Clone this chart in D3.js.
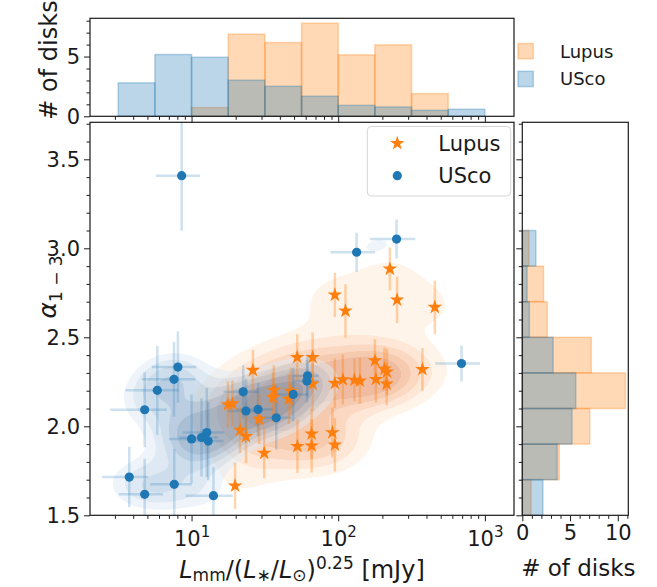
<!DOCTYPE html>
<html>
<head>
<meta charset="utf-8">
<script src="https://cdn.jsdelivr.net/npm/d3@7"></script>
<style>
  body { margin: 0; background: #fff; }
  svg { font-family: "DejaVu Sans", sans-serif; }
</style>
</head>
<body>
<svg id="chart" width="657" height="587"></svg>
<script>
// ---- data ----
const groups = ["Lupus", "USco"];

// Lupus: flux (mJy), alpha, alpha error
const lupusX = [225, 94.9, 112, 252, 456, 66.9, 52.5, 66.9, 94.9, 107.6, 129, 140.6, 178, 180.7, 206.5, 214.8, 213.8, 375,
                65.9, 91.2, 65.9, 94.9, 26.2, 17.7, 19.0, 36.4, 35.9, 47.6, 46.1, 28.9, 21.4, 23.5, 31.3, 52.7, 19.8];
const lupusY = [2.884, 2.738, 2.648, 2.710, 2.669, 2.388, 2.388, 2.238, 2.242, 2.263, 2.260, 2.255, 2.369, 2.264, 2.322, 2.306, 2.238, 2.320,
                1.958, 1.965, 1.890, 1.896, 2.315, 2.122, 2.127, 2.203, 2.162, 2.198, 2.153, 2.040, 1.979, 1.943, 1.849, 1.887, 1.666];
const lupusYerr = [0.12, 0.125, 0.15, 0.13, 0.15, 0.14, 0.13, 0.15, 0.14, 0.14, 0.12, 0.13, 0.12, 0.13, 0.12, 0.13, 0.12, 0.12,
                   0.14, 0.14, 0.15, 0.15, 0.115, 0.13, 0.13, 0.14, 0.14, 0.13, 0.14, 0.14, 0.13, 0.15, 0.14, 0.15, 0.13];

// USco: flux, flux error, alpha, alpha error
const uscoX = [8.56, 133.5, 250, 693, 8.07, 7.59, 5.84, 4.79, 10.0, 11.7, 12.7, 13.0, 3.76, 7.62, 4.79, 14.1,
               22.5, 23.5, 28.4, 37.8, 49.3, 61.8, 61.2];
const uscoXerr = [2.85, 45, 85, 235, 2.7, 3.0, 2.3, 2.0, 3.0, 3.5, 4.0, 3.5, 1.3, 2.4, 1.6, 5.0,
                  6, 6, 8, 10, 13, 12, 12];
const uscoY = [3.408, 2.978, 3.052, 2.353, 2.333, 2.264, 2.202, 2.093, 1.929, 1.937, 1.965, 1.917, 1.715, 1.674, 1.618, 1.610,
               2.194, 2.086, 2.095, 2.048, 2.179, 2.284, 2.254];
const uscoYerr = [0.31, 0.11, 0.11, 0.10, 0.20, 0.21, 0.25, 0.21, 0.25, 0.22, 0.25, 0.22, 0.17, 0.20, 0.20, 0.16,
                  0.15, 0.18, 0.15, 0.18, 0.15, 0.12, 0.12];

// top histogram (log10 flux bins)
const topEdges = [0.5, 0.75, 1.0, 1.25, 1.5, 1.75, 2.0, 2.25, 2.5, 2.75, 3.0];
const topLupus = [0, 0, 0.73, 6.87, 6.17, 7.79, 5.14, 5.98, 1.90, 0];
const topUSco  = [2.80, 5.17, 4.94, 3.02, 2.51, 1.68, 0.92, 0.78, 0.50, 0.59];

// right histogram (alpha bins)
const sideEdges = [1.5, 1.7, 1.9, 2.1, 2.3, 2.5, 2.7, 2.9, 3.1];
const sideLupus = [0.92, 3.87, 7.06, 10.8, 7.23, 2.62, 2.23, 0.70];
const sideUSco  = [2.16, 3.65, 5.21, 5.60, 3.23, 0.74, 0.50, 1.42];

const xMajor = [10, 100, 1000];
const yMajor = [1.5, 2.0, 2.5, 3.0, 3.5];
const topTicks = [0, 5];
const sideTicks = [0, 5, 10];

// ---- layout ----
const C = { orange: "#ff7f0e", blue: "#1f77b4", ink: "#1a1a1a" };
const M = { l: 90, r: 514, t: 122.3, b: 515.3 };
const T = { t: 18.3, b: 116.3 };
const S = { l: 522.3, r: 628.3 };

const svg = d3.select("#chart");

const x = d3.scaleLog().domain([2.03, 1580]).range([M.l, M.r]);
const y = d3.scaleLinear().domain([1.5, 3.708]).range([M.b, M.t]);
const yTop = d3.scaleLinear().domain([0, 8.2]).range([T.b, T.t]);
const xSide = d3.scaleLinear().domain([0, 11.1]).range([S.l, S.r]);

const lupus = lupusX.map((v, i) => ({ x: v, y: lupusY[i], xe: 0, ye: lupusYerr[i] }));
const usco = uscoX.map((v, i) => ({ x: v, y: uscoY[i], xe: uscoXerr[i], ye: uscoYerr[i] }));

svg.append("defs").append("clipPath").attr("id", "mainclip")
  .append("rect").attr("x", M.l).attr("y", M.t).attr("width", M.r - M.l).attr("height", M.b - M.t);

// ---- KDE bands (gaussian kernels in log10 flux / alpha space, linear levels) ----
const STEP = 2;
const nx = Math.ceil((M.r - M.l) / STEP), ny = Math.ceil((M.b - M.t) / STEP);

function kdeContours(pts, hx, hy, floor, spread) {
  const vals = new Float64Array(nx * ny);
  for (let j = 0; j < ny; j++) {
    const yy = y.invert(M.t + (j + 0.5) * STEP);
    for (let i = 0; i < nx; i++) {
      const lx = Math.log10(x.invert(M.l + (i + 0.5) * STEP));
      let s = 0;
      for (const p of pts) {
        const dx = (lx - Math.log10(p.x)) / hx, dy = (yy - p.y) / hy;
        s += Math.exp(-0.5 * (dx * dx + dy * dy));
      }
      vals[j * nx + i] = s;
    }
  }
  const top = d3.max(vals);
  const levels = spread.map(f => floor + (top - floor) * f);
  return d3.contours().size([nx, ny]).thresholds(levels)(Array.from(vals));
}

const gridPath = d3.geoPath(d3.geoIdentity().scale(STEP).translate([M.l, M.t]));

function drawBands(contours, colors, opacity) {
  const g = svg.append("g").attr("clip-path", "url(#mainclip)");
  contours.forEach((c, i) => {
    const d = gridPath(c) + (i < contours.length - 1 ? gridPath(contours[i + 1]) || "" : "");
    g.append("path").attr("d", d).attr("fill", colors[i])
      .attr("fill-opacity", opacity).attr("fill-rule", "evenodd");
  });
}

const bandSpread = [0, 0.16, 0.32, 0.48, 0.64];
drawBands(kdeContours(lupus, 0.21, 0.12, 1.3, bandSpread),
  ["#ffe9d5", "#fdd0ad", "#f8b185", "#ee955f", "#df7a45"], 0.5);
drawBands(kdeContours(usco, 0.21, 0.12, 1.5, bandSpread),
  ["#dde9f5", "#bdd4e8", "#9bbcd8", "#789dc3", "#5680aa"], 0.5);

// ---- error bars & markers ----
const pts = svg.append("g").attr("clip-path", "url(#mainclip)");

function errorBars(data, color, op) {
  const g = pts.append("g").attr("stroke", color).attr("stroke-opacity", op).attr("stroke-width", 2.5);
  g.selectAll(".ey").data(data).join("line")
    .attr("x1", d => x(d.x)).attr("x2", d => x(d.x))
    .attr("y1", d => y(d.y - d.ye)).attr("y2", d => y(d.y + d.ye));
  g.selectAll(".ex").data(data.filter(d => d.xe > 0)).join("line")
    .attr("x1", d => x(d.x - d.xe)).attr("x2", d => x(d.x + d.xe))
    .attr("y1", d => y(d.y)).attr("y2", d => y(d.y));
}
errorBars(usco, C.blue, 0.22);
errorBars(lupus, C.orange, 0.33);

const star = d3.symbol().type(d3.symbolStar).size(66);
pts.append("g").selectAll("path").data(lupus).join("path")
  .attr("d", star).attr("fill", C.orange)
  .attr("transform", d => `translate(${x(d.x)},${y(d.y)})`);
pts.append("g").selectAll("circle").data(usco).join("circle")
  .attr("cx", d => x(d.x)).attr("cy", d => y(d.y)).attr("r", 4.6).attr("fill", C.blue);

// ---- histograms ----
function topHist(vals, color) {
  svg.append("g").selectAll("rect").data(vals.map((v, i) => ({ v, i })).filter(d => d.v > 0)).join("rect")
    .attr("x", d => x(10 ** topEdges[d.i])).attr("width", d => x(10 ** topEdges[d.i + 1]) - x(10 ** topEdges[d.i]))
    .attr("y", d => yTop(d.v)).attr("height", d => yTop(0) - yTop(d.v))
    .attr("fill", color).attr("fill-opacity", 0.3)
    .attr("stroke", color).attr("stroke-opacity", 0.3).attr("stroke-width", 1.5);
}
topHist(topLupus, C.orange);
topHist(topUSco, C.blue);

function sideHist(vals, color) {
  svg.append("g").selectAll("rect").data(vals.map((v, i) => ({ v, i })).filter(d => d.v > 0)).join("rect")
    .attr("x", xSide(0)).attr("width", d => xSide(d.v) - xSide(0))
    .attr("y", d => y(sideEdges[d.i + 1])).attr("height", d => y(sideEdges[d.i]) - y(sideEdges[d.i + 1]))
    .attr("fill", color).attr("fill-opacity", 0.3)
    .attr("stroke", color).attr("stroke-opacity", 0.3).attr("stroke-width", 1.5);
}
sideHist(sideLupus, C.orange);
sideHist(sideUSco, C.blue);

// ---- axes ----
const logMinor = [1, 10, 100, 1000].flatMap(d => [2, 3, 4, 5, 6, 7, 8, 9].map(k => k * d))
  .filter(v => v > x.domain()[0] && v < x.domain()[1]);
const yMinor = d3.range(15, 38).map(v => v / 10).filter(v => !yMajor.some(m => Math.abs(m - v) < 1e-6));

function tidy(g) {
  g.select(".domain").remove();
  g.selectAll(".tick line").attr("stroke", C.ink).attr("stroke-width", 1);
  g.selectAll(".tick text").attr("fill", C.ink).style("font-family", "DejaVu Sans");
}
function addAxis(axis, tx, ty, values, size, fmt, fontSize) {
  const g = svg.append("g").attr("transform", `translate(${tx},${ty})`)
    .call(axis.tickValues(values).tickSize(size).tickPadding(4).tickFormat(fmt || ""));
  tidy(g);
  if (fontSize) g.selectAll(".tick text").attr("font-size", fontSize);
  return g;
}

// main axes
addAxis(d3.axisBottom(x), 0, M.b, logMinor, 3.5);
const gx = addAxis(d3.axisBottom(x), 0, M.b, xMajor, 6, () => "", 21);
gx.selectAll(".tick text").each(function(d) {
  const t = d3.select(this).attr("dy", null).attr("y", 31);
  t.append("tspan").text("10");
  t.append("tspan").attr("dy", -9).attr("font-size", 15).text(Math.round(Math.log10(d)));
});
addAxis(d3.axisLeft(y), M.l, 0, yMinor, 3.5);
addAxis(d3.axisLeft(y), M.l, 0, yMajor, 6, d3.format(".1f"), 21);

// top hist axes
addAxis(d3.axisBottom(x), 0, T.b, logMinor, 3.5);
addAxis(d3.axisBottom(x), 0, T.b, xMajor, 6);
addAxis(d3.axisLeft(yTop), M.l, 0, d3.range(1, 9).filter(v => !topTicks.includes(v)), 3.5);
addAxis(d3.axisLeft(yTop), M.l, 0, topTicks, 6, d3.format("d"), 21);

// side hist axes
addAxis(d3.axisLeft(y), S.l, 0, yMinor, 3.5);
addAxis(d3.axisLeft(y), S.l, 0, yMajor, 6);
addAxis(d3.axisBottom(xSide), 0, M.b, d3.range(1, 12).filter(v => !sideTicks.includes(v)), 3.5);
addAxis(d3.axisBottom(xSide), 0, M.b, sideTicks, 6, d3.format("d"), 21);

// spines
const spine = (x0, y0, x1, y1) => svg.append("rect").attr("x", x0).attr("y", y0)
  .attr("width", x1 - x0).attr("height", y1 - y0).attr("fill", "none").attr("stroke", C.ink).attr("stroke-width", 1.2);
spine(M.l, M.t, M.r, M.b);
spine(M.l, T.t, M.r, T.b);
spine(S.l, M.t, S.r, M.b);

// ---- labels ----
svg.append("text").attr("transform", `translate(57,60) rotate(-90)`).attr("text-anchor", "middle")
  .attr("font-size", 24).attr("fill", C.ink).text("# of disks");

const al = svg.append("text").attr("transform", `translate(56,287) rotate(-90)`).attr("text-anchor", "middle")
  .attr("font-size", 25).attr("fill", C.ink);
al.append("tspan").attr("font-style", "italic").text("α");
al.append("tspan").attr("font-size", 17).attr("dy", 6).text("1 − 3");

const xl = svg.append("text").attr("x", (M.l + M.r) / 2).attr("y", 578).attr("text-anchor", "middle")
  .attr("font-size", 24).attr("fill", C.ink);
xl.append("tspan").attr("font-style", "italic").text("L");
xl.append("tspan").attr("font-size", 17).attr("dy", 3).text("mm");
xl.append("tspan").attr("dy", -3).text("/(");
xl.append("tspan").attr("font-style", "italic").text("L");
xl.append("tspan").attr("font-size", 17).attr("dy", 3).text("∗");
xl.append("tspan").attr("dy", -3).text("/");
xl.append("tspan").attr("font-style", "italic").text("L");
xl.append("tspan").attr("font-size", 17).attr("dy", 3).text("⊙");
xl.append("tspan").attr("dy", -3).text(")");
xl.append("tspan").attr("font-size", 17).attr("dy", -9).text("0.25");
xl.append("tspan").attr("dy", 9).text(" [mJy]");

svg.append("text").attr("x", (S.l + S.r) / 2 + 3).attr("y", 576).attr("text-anchor", "middle")
  .attr("font-size", 23).attr("fill", C.ink).text("# of disks");

// ---- legends ----
const lg = svg.append("g");
lg.append("rect").attr("x", 367.3).attr("y", 126.5).attr("width", 143.4).attr("height", 69.5).attr("rx", 4)
  .attr("fill", "#fff").attr("fill-opacity", 0.8).attr("stroke", "#d5d5d5");
lg.append("path").attr("d", star).attr("fill", C.orange).attr("transform", "translate(397.3,143.3)");
lg.append("circle").attr("cx", 397.3).attr("cy", 175.7).attr("r", 4.6).attr("fill", C.blue);
lg.selectAll("text").data(groups).join("text")
  .attr("x", 438.3).attr("y", (d, i) => 151 + i * 32).attr("font-size", 21).attr("fill", C.ink).text(d => d);

const tl = svg.append("g");
tl.selectAll("rect").data(groups).join("rect")
  .attr("x", 518).attr("y", (d, i) => 43.5 + i * 27.8).attr("width", 15.3).attr("height", 15.3)
  .attr("fill", (d, i) => i ? C.blue : C.orange).attr("fill-opacity", 0.3)
  .attr("stroke", (d, i) => i ? C.blue : C.orange).attr("stroke-opacity", 0.3).attr("stroke-width", 1.5);
tl.selectAll("text").data(groups).join("text")
  .attr("x", 560).attr("y", (d, i) => 57.5 + i * 27.8).attr("font-size", 18).attr("fill", C.ink).text(d => d);
</script>
</body>
</html>
